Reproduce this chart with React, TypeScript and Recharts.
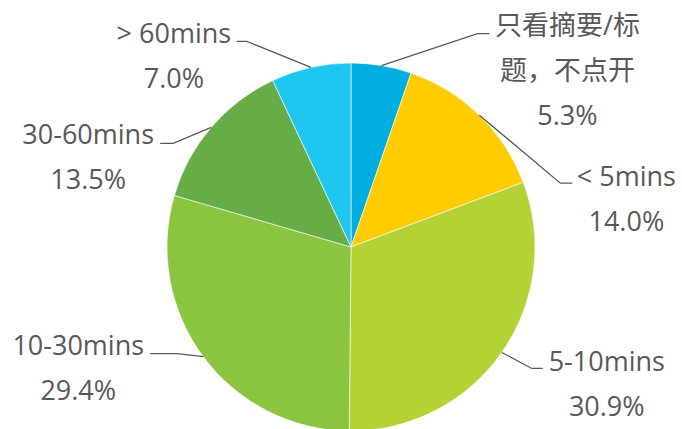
import React from "react";
import { PieChart, Pie, Cell } from "recharts";

if (typeof document !== "undefined") document.body.style.margin = "0";

// categories, clockwise from 12 o'clock ("\n" = line break in the label)
const CATEGORIES = [
  "只看摘要/标\n题，不点开",
  "< 5mins",
  "5-10mins",
  "10-30mins",
  "30-60mins",
  "> 60mins",
];
const SHARES = [5.3, 14.0, 30.9, 29.4, 13.5, 7.0];
const COLORS = ["#00AEE0", "#FFCC00", "#B2D235", "#8BC53F", "#66AD46", "#1FC6F0"];

// leader line / label placement relative to the slice's edge point
const LABEL_LAYOUT = [
  { elbow: [96, -32], tail: 12, text: [90, -9] },
  { elbow: [81, 68], tail: 12, text: [66, -8] },
  { elbow: [30, 16], tail: 11, text: [75, -8] },
  { elbow: [-26, -3], tail: -27, text: [-99, -9] },
  { elbow: [-38, 16], tail: -13, text: [-85, -10] },
  { elbow: [-64, -26], tail: -10, text: [-73, -9] },
];

const TEXT_COLOR = "#595959";
const FONT = "'Open Sans', 'Noto Sans CJK SC', sans-serif";
const LINE_GAP = 45;

const data = CATEGORIES.map((name, i) => ({ name, value: SHARES[i] }));

const RAD = Math.PI / 180;

function renderLabel(props: any) {
  const { cx, cy, midAngle, outerRadius, index, value, name } = props;
  const layout = LABEL_LAYOUT[index];
  const sx = cx + outerRadius * Math.cos(-midAngle * RAD);
  const sy = cy + outerRadius * Math.sin(-midAngle * RAD);
  const ex = sx + layout.elbow[0];
  const ey = sy + layout.elbow[1];
  const tx = ex + layout.text[0];
  const ty = ey + layout.text[1];
  const lines = [...String(name).split("\n"), `${Number(value).toFixed(1)}%`];
  return (
    <g key={`label-${index}`}>
      <path
        d={`M${sx},${sy}L${ex},${ey}L${ex + layout.tail},${ey}`}
        stroke={TEXT_COLOR}
        strokeWidth={1.3}
        fill="none"
      />
      {lines.map((line, j) => (
        <text
          key={j}
          x={tx}
          y={ty + j * LINE_GAP}
          textAnchor="middle"
          dominantBaseline="central"
          fill={TEXT_COLOR}
          fontSize={27}
          fontFamily={FONT}
        >
          {line}
        </text>
      ))}
    </g>
  );
}

export default function App() {
  return (
    <div style={{ width: 682, height: 429, background: "#fff" }}>
      <PieChart width={682} height={429} margin={{ top: 0, right: 0, bottom: 0, left: 0 }}>
        <Pie
          data={data}
          dataKey="value"
          nameKey="name"
          cx={351}
          cy={247}
          outerRadius={184}
          startAngle={90}
          endAngle={-270}
          stroke="#ffffff"
          strokeWidth={0.6}
          labelLine={false}
          label={renderLabel}
          isAnimationActive={false}
        >
          {data.map((entry, index) => (
            <Cell key={`cell-${index}`} fill={COLORS[index]} />
          ))}
        </Pie>
      </PieChart>
    </div>
  );
}
